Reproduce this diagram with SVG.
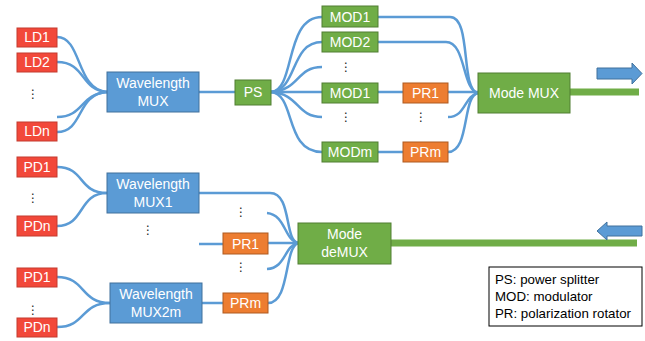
<svg xmlns="http://www.w3.org/2000/svg" width="645" height="341" viewBox="0 0 645 341">
<style>
text{font-family:"Liberation Sans",Arial,sans-serif;font-size:14px;fill:#fff;text-anchor:middle}
.red{fill:#F2483A;stroke:#C43A2E;stroke-width:1}
.blue{fill:#5B9BD5;stroke:#41719C;stroke-width:1}
.green{fill:#70AD47;stroke:#507E32;stroke-width:1}
.orange{fill:#ED7D31;stroke:#AE5A21;stroke-width:1}
.c{fill:none;stroke:#5B9BD5;stroke-width:2.5}
.g{fill:none;stroke:#70AD47;stroke-width:7}
.dots{font-family:"DejaVu Sans",sans-serif;font-size:12px;fill:#222}
.leg{fill:#000;text-anchor:start;font-size:13.3px}
</style>
<g id="connectors">
<path class="c" d="M57,37 C82,37 76,90 107,92"/>
<path class="c" d="M57,62 C86,62 80,90 107,92"/>
<path class="c" d="M57,117 C84,117 80,94 107,92"/>
<path class="c" d="M57,132 C84,132 76,94 107,92"/>
<path class="c" d="M199,92 L235,92"/>
<path class="c" d="M271,92 C296,90 284,17 322,17"/>
<path class="c" d="M271,92 C298,90 290,42 322,42"/>
<path class="c" d="M271,92 C300,90 296,67 322,67"/>
<path class="c" d="M271,92 L322,92"/>
<path class="c" d="M271,92 C300,94 296,117 322,117"/>
<path class="c" d="M271,92 C296,94 284,152 322,152"/>
<path class="c" d="M378,92 L403,92"/>
<path class="c" d="M378,152 L403,152"/>
<path class="c" d="M378,17 L450,17 C472,17 460,90 478,93"/>
<path class="c" d="M378,42 L446,42 C466,42 462,90 478,93"/>
<path class="c" d="M448,92 L478,92"/>
<path class="c" d="M448,117 C466,117 464,96 478,93"/>
<path class="c" d="M448,152 C470,152 462,96 478,93"/>
<path class="c" d="M57,167 C85,167 78,193 107,193"/>
<path class="c" d="M57,226 C85,226 78,193 107,193"/>
<path class="c" d="M199,193 L270,193 C292,193 284,240 298,243"/>
<path class="c" d="M267,213 C286,215 284,240 298,243"/>
<path class="c" d="M199,244 L223,244"/>
<path class="c" d="M268,243 L298,243"/>
<path class="c" d="M267,269 C286,268 284,246 298,243"/>
<path class="c" d="M268,303 C290,303 284,248 298,243"/>
<path class="c" d="M57,277 C86,277 80,303 110,303"/>
<path class="c" d="M57,327 C86,327 80,303 110,303"/>
<path class="c" d="M202,303 L223,303"/>
<path class="g" d="M570,92 L639,92"/>
<path class="g" d="M391,243 L637,243"/>
<polygon class="blue" points="597,68 632,68 632,63 642,73.5 632,84 632,79 597,79"/>
<polygon class="blue" points="642,226 607,226 607,222 597,231 607,240 607,236 642,236"/>
</g>
<g id="LD1"><rect class="red" x="17" y="28" width="40" height="19"/><text x="37" y="42">LD1</text></g>
<g id="LD2"><rect class="red" x="17" y="53" width="40" height="19"/><text x="37" y="67">LD2</text></g>
<text class="dots" x="33" y="98">⋮</text>
<g id="LDn"><rect class="red" x="17" y="122" width="40" height="19"/><text x="37" y="136">LDn</text></g>
<g id="WMUX"><rect class="blue" x="107" y="72" width="92" height="40"/><text x="153" y="88">Wavelength</text><text x="153" y="106">MUX</text></g>
<g id="PS"><rect class="green" x="235" y="80" width="36" height="25"/><text x="253" y="97">PS</text></g>
<g id="MOD1a"><rect class="green" x="322" y="6" width="56" height="21"/><text x="350" y="21.5">MOD1</text></g>
<g id="MOD2"><rect class="green" x="322" y="32" width="56" height="20"/><text x="350" y="47">MOD2</text></g>
<text class="dots" x="346" y="71">⋮</text>
<g id="MOD1b"><rect class="green" x="322" y="83" width="56" height="20"/><text x="350" y="98">MOD1</text></g>
<text class="dots" x="346" y="121">⋮</text>
<text class="dots" x="421" y="121">⋮</text>
<g id="MODm"><rect class="green" x="322" y="142" width="56" height="20"/><text x="350" y="157">MODm</text></g>
<g id="PR1a"><rect class="orange" x="403" y="83" width="45" height="20"/><text x="425.5" y="98">PR1</text></g>
<g id="PRma"><rect class="orange" x="403" y="142" width="45" height="20"/><text x="425.5" y="157">PRm</text></g>
<g id="ModeMUX"><rect class="green" x="478" y="73" width="92" height="40"/><text x="524" y="98">Mode MUX</text></g>
<g id="PD1a"><rect class="red" x="17" y="157" width="40" height="20"/><text x="37" y="172">PD1</text></g>
<text class="dots" x="33" y="202">⋮</text>
<g id="PDna"><rect class="red" x="17" y="216" width="40" height="20"/><text x="37" y="231">PDn</text></g>
<g id="WMUX1"><rect class="blue" x="107" y="173" width="92" height="40"/><text x="153" y="189">Wavelength</text><text x="153" y="207">MUX1</text></g>
<text class="dots" x="148" y="234">⋮</text>
<text class="dots" x="241" y="216">⋮</text>
<g id="PR1b"><rect class="orange" x="223" y="233" width="45" height="21"/><text x="245.5" y="248.5">PR1</text></g>
<text class="dots" x="241" y="271">⋮</text>
<g id="PRmb"><rect class="orange" x="223" y="293" width="45" height="20"/><text x="245.5" y="308">PRm</text></g>
<g id="ModeDeMUX"><rect class="green" x="298" y="223" width="93" height="41"/><text x="344.5" y="239">Mode</text><text x="344.5" y="257">deMUX</text></g>
<g id="PD1b"><rect class="red" x="17" y="268" width="40" height="19"/><text x="37" y="282">PD1</text></g>
<text class="dots" x="33" y="314">⋮</text>
<g id="PDnb"><rect class="red" x="17" y="318" width="40" height="19"/><text x="37" y="332">PDn</text></g>
<g id="WMUX2m"><rect class="blue" x="110" y="283" width="92" height="40"/><text x="156" y="299">Wavelength</text><text x="156" y="317">MUX2m</text></g>
<g id="legend"><rect x="489" y="267" width="153" height="59" fill="#fff" stroke="#000" stroke-width="1"/>
<text class="leg" x="495" y="284">PS: power splitter</text>
<text class="leg" x="495" y="301">MOD: modulator</text>
<text class="leg" x="495" y="318">PR: polarization rotator</text></g>
</svg>
